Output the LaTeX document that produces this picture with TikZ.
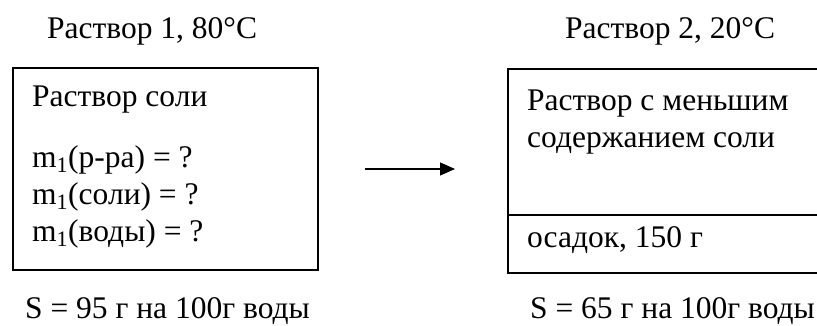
\documentclass[tikz,border=0pt]{standalone}
\usepackage{fontspec}
\setmainfont{Liberation Serif}
\usetikzlibrary{arrows.meta}
\begin{document}
\begin{tikzpicture}[x=1pt,y=-1pt,
  lbl/.style={anchor=base west,inner sep=0pt,font=\fontsize{31.5}{36}\selectfont},
  boxline/.style={draw=black,line width=1.8pt},
  divline/.style={draw=black,line width=1.8pt},
  arrowline/.style={draw=black,line width=1.1pt,-{Triangle[length=15pt,width=13pt]}}]
\useasboundingbox (0,0) rectangle (817,325);
% boxes
\node[boxline,rectangle,inner sep=0pt,minimum width=305pt,minimum height=202pt,anchor=north west] (box1) at (12,67) {};
\node[boxline,rectangle,inner sep=0pt,minimum width=313pt,minimum height=204pt,anchor=north west] (box2) at (507,68) {};
\coordinate (divL) at (507,215);
\coordinate (divR) at (820,215);
\draw[divline] (divL) -- (divR);
% titles
\node[lbl] (t1) at (47,38) {Раствор 1, 80°C};
\node[lbl] (t2) at (565,38) {Раствор 2, 20°C};
% left box text
\node[lbl] (l1) at (32,106) {Раствор соли};
\node[lbl] (l2) at (32,167) {m\textsubscript{1}(р-ра) = ?};
\node[lbl] (l3) at (32,204) {m\textsubscript{1}(соли) = ?};
\node[lbl] (l4) at (32,241) {m\textsubscript{1}(воды) = ?};
% right box text
\node[lbl] (r1) at (527,110) {Раствор с меньшим};
\node[lbl] (r2) at (527,147) {содержанием соли};
\node[lbl] (r3) at (527,247) {осадок, 150 г};
% bottom
\node[lbl] (b1) at (25,318) {S = 95 г на 100г воды};
\node[lbl] (b2) at (530,318) {S = 65 г на 100г воды};
% arrow
\coordinate (aS) at (365,169);
\coordinate (aE) at (455,169);
\draw[arrowline] (aS) -- (aE);
\end{tikzpicture}
\end{document}
